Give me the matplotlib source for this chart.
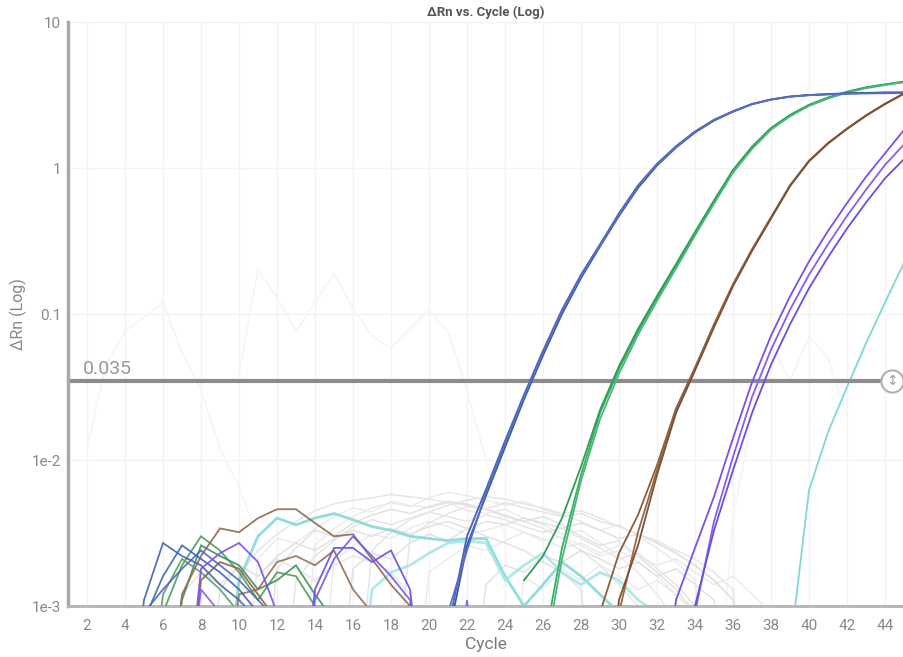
import matplotlib
matplotlib.use("Agg")
import matplotlib.pyplot as plt
import numpy as np

plt.rcParams['font.family'] = ['Roboto', 'DejaVu Sans']

# dRn per cycle; each trace is (first cycle, values). 0.0001 marks a point
# that fell below zero after baseline correction (drawn off the bottom).
threshold = 0.035

blue_colors = ['#4862b5', '#3b56a6', '#5570c4']
blue_amp = [
    (20, [0.0001, 0.0007, 0.0030, 0.0063, 0.0135, 0.028, 0.056, 0.107, 0.186, 0.30, 0.49, 0.76, 1.07,
          1.41, 1.78, 2.14, 2.45, 2.75, 2.95, 3.09, 3.16, 3.20, 3.24, 3.26, 3.28, 3.28]),
    (20, [0.0001, 0.0006, 0.0026, 0.0057, 0.0122, 0.026, 0.052, 0.100, 0.176, 0.29, 0.47, 0.73, 1.04,
          1.38, 1.75, 2.11, 2.43, 2.73, 2.94, 3.08, 3.16, 3.21, 3.25, 3.27, 3.29, 3.30]),
    (20, [0.0001, 0.0009, 0.0024, 0.0060, 0.0130, 0.027, 0.054, 0.104, 0.181, 0.295, 0.48, 0.75, 1.06,
          1.40, 1.77, 2.13, 2.44, 2.74, 2.94, 3.08, 3.15, 3.19, 3.22, 3.24, 3.25, 3.26]),
]
blue_noise = [
    (4, [0.0001, 0.0011, 0.0027, 0.0022, 0.0019, 0.0014, 0.0011, 0.0008, 0.0001]),
    (4, [0.0001, 0.0008, 0.0016, 0.0026, 0.0021, 0.0017, 0.0013, 0.0009, 0.0006, 0.0001]),
    (4, [0.0001, 0.0009, 0.0013, 0.0018, 0.0024, 0.0019, 0.0015, 0.0011, 0.0008, 0.0001]),
]

green_colors = ['#3aae66', '#2f9f58', '#4cb875']
green_amp = [
    (25, [0.0001, 0.0005, 0.0025, 0.0079, 0.021, 0.042, 0.076, 0.129, 0.214, 0.355, 0.59, 0.95, 1.38,
          1.86, 2.29, 2.69, 3.02, 3.31, 3.55, 3.72, 3.89]),
    (25, [0.0015, 0.0022, 0.0040, 0.0090, 0.022, 0.044, 0.079, 0.133, 0.22, 0.365, 0.60, 0.97, 1.40,
          1.88, 2.31, 2.71, 3.04, 3.33, 3.57, 3.74, 3.91]),
    (25, [0.0001, 0.0004, 0.0021, 0.0072, 0.019, 0.039, 0.072, 0.123, 0.205, 0.345, 0.57, 0.93, 1.35,
          1.83, 2.26, 2.66, 2.99, 3.28, 3.52, 3.70, 3.87]),
]
green_noise = [
    (5, [0.0001, 0.0009, 0.0019, 0.0030, 0.0024, 0.0017, 0.0011, 0.0017, 0.0016, 0.0010, 0.0001]),
    (6, [0.0001, 0.0011, 0.0026, 0.0022, 0.0019, 0.0013, 0.0015, 0.0019, 0.0012, 0.0008, 0.0001]),
    (5, [0.0001, 0.0012, 0.0021, 0.0017, 0.0013, 0.0009, 0.0001]),
]

brown_colors = ['#8b5e3c', '#96684a', '#7d5236']
brown_amp = [
    (29, [0.0009, 0.0023, 0.0042, 0.0092, 0.0225, 0.043, 0.085, 0.160, 0.277, 0.46, 0.76, 1.12, 1.48,
          1.86, 2.29, 2.75, 3.24]),
    (29, [0.0001, 0.0009, 0.0032, 0.0085, 0.0215, 0.042, 0.083, 0.158, 0.275, 0.455, 0.76, 1.12, 1.48,
          1.86, 2.29, 2.75, 3.24]),
    (29, [0.0001, 0.0011, 0.0026, 0.0079, 0.021, 0.041, 0.081, 0.155, 0.27, 0.45, 0.75, 1.11, 1.47,
          1.85, 2.28, 2.74, 3.23]),
]
brown_noise = [
    (6, [0.0001, 0.0012, 0.0022, 0.0034, 0.0032, 0.0040, 0.0046, 0.0046, 0.0037, 0.0030, 0.0031,
         0.0021, 0.0014, 0.0010, 0.0001]),
    (9, [0.0001, 0.0012, 0.0013, 0.0020, 0.0022, 0.0019, 0.0024, 0.0013, 0.0009, 0.0001]),
    (7, [0.0001, 0.0015, 0.0020, 0.0018, 0.0012, 0.0008, 0.0001]),
]

purple_colors = ['#7b4fe8', '#8a5cf0', '#6a4ee0']
purple_amp = [
    (32, [0.0001, 0.0011, 0.0025, 0.0056, 0.0141, 0.034, 0.071, 0.132, 0.229, 0.37, 0.575, 0.87, 1.26, 1.82]),
    (33, [0.0001, 0.0009, 0.0038, 0.0105, 0.027, 0.057, 0.107, 0.186, 0.30, 0.47, 0.71, 1.05, 1.45]),
    (33, [0.0001, 0.0010, 0.0033, 0.0085, 0.021, 0.045, 0.085, 0.150, 0.245, 0.385, 0.58, 0.85, 1.15]),
]
purple_noise = [
    (7, [0.0001, 0.0018, 0.0023, 0.0027, 0.0020, 0.0009, 0.0001]),
    (7, [0.0001, 0.0013, 0.0009, 0.0001]),
    (13, [0.0001, 0.0013, 0.0025, 0.0025, 0.0020, 0.0024, 0.0013, 0.0001]),
    (13, [0.0001, 0.0011, 0.0021, 0.0030, 0.0022, 0.0016, 0.0011, 0.0001]),
    (21, [0.0001, 0.0011, 0.0001]),
]

cyan_colors = ['#7fd8d6', '#a3e6e3']
cyan_amp = [
    (38, [0.0001, 0.0005, 0.0062, 0.0155, 0.0316, 0.063, 0.12, 0.224]),
]
cyan_noise = [
    (9, [0.0001, 0.0015, 0.0030, 0.0040, 0.0036, 0.0040, 0.0043, 0.0039, 0.0035, 0.0033, 0.0030, 0.0029,
         0.0028, 0.0029, 0.0029, 0.0016, 0.0010, 0.0014, 0.0020, 0.0016, 0.0012, 0.0009, 0.0001]),
    (16, [0.0001, 0.0013, 0.0017, 0.0019, 0.0023, 0.0027, 0.0028, 0.0027, 0.0015, 0.0019, 0.0023, 0.0017,
          0.0014, 0.0017, 0.0015, 0.0011, 0.0009, 0.0001]),
]

# unselected wells, shown faded behind the selection
gray_traces = [
    (9, [0.0001, 0.0016, 0.0024, 0.0031, 0.0038, 0.0045, 0.0050, 0.0053, 0.0055, 0.0058, 0.0056, 0.0054,
         0.0051, 0.0049, 0.0046, 0.0042, 0.0038, 0.0034, 0.0029, 0.0024, 0.0019, 0.0014, 0.0010, 0.0001]),
    (10, [0.0001, 0.0021, 0.0029, 0.0027, 0.0034, 0.0041, 0.0047, 0.0044, 0.0052, 0.0049, 0.0047, 0.0051,
          0.0045, 0.0043, 0.0046, 0.0040, 0.0036, 0.0031, 0.0033, 0.0027, 0.0022, 0.0017, 0.0012, 0.0008, 0.0001]),
    (11, [0.0001, 0.0018, 0.0025, 0.0033, 0.0030, 0.0037, 0.0042, 0.0046, 0.0043, 0.0048, 0.0052, 0.0050,
          0.0046, 0.0041, 0.0038, 0.0041, 0.0036, 0.0030, 0.0026, 0.0028, 0.0022, 0.0017, 0.0013, 0.0009, 0.0001]),
    (12, [0.0001, 0.0015, 0.0022, 0.0028, 0.0035, 0.0039, 0.0036, 0.0040, 0.0044, 0.0041, 0.0038, 0.0042,
          0.0039, 0.0035, 0.0032, 0.0034, 0.0029, 0.0025, 0.0021, 0.0023, 0.0018, 0.0014, 0.0010, 0.0001]),
    (14, [0.0001, 0.0020, 0.0026, 0.0031, 0.0029, 0.0034, 0.0038, 0.0035, 0.0031, 0.0033, 0.0036, 0.0032,
          0.0028, 0.0030, 0.0026, 0.0022, 0.0024, 0.0020, 0.0016, 0.0012, 0.0001]),
    (8, [0.0001, 0.0013, 0.0019, 0.0016, 0.0022, 0.0027, 0.0024, 0.0029, 0.0033, 0.0030, 0.0034, 0.0031,
         0.0035, 0.0038, 0.0034, 0.0030, 0.0027, 0.0024, 0.0020, 0.0017, 0.0013, 0.0001]),
    (16, [0.0001, 0.0024, 0.0032, 0.0039, 0.0044, 0.0049, 0.0053, 0.0056, 0.0054, 0.0050, 0.0047, 0.0043,
          0.0045, 0.0040, 0.0035, 0.0031, 0.0027, 0.0023, 0.0019, 0.0015, 0.0011, 0.0001]),
    (19, [0.0001, 0.0017, 0.0021, 0.0026, 0.0024, 0.0028, 0.0032, 0.0029, 0.0025, 0.0027, 0.0023, 0.0026,
          0.0022, 0.0019, 0.0021, 0.0017, 0.0014, 0.0016, 0.0012, 0.0009, 0.0001]),
    (22, [0.0001, 0.0014, 0.0019, 0.0017, 0.0022, 0.0020, 0.0024, 0.0021, 0.0018, 0.0020, 0.0016, 0.0018,
          0.0014, 0.0011, 0.0001]),
    (6, [0.0001, 0.0012, 0.0017, 0.0014, 0.0019, 0.0016, 0.0021, 0.0018, 0.0015, 0.0019, 0.0022, 0.0020,
         0.0017, 0.0012, 0.0001]),
    (13, [0.0001, 0.0026, 0.0034, 0.0041, 0.0047, 0.0051, 0.0048, 0.0055, 0.0060, 0.0057, 0.0053, 0.0049,
          0.0052, 0.0046, 0.0042, 0.0038, 0.0033, 0.0036, 0.0030, 0.0025, 0.0020, 0.0015, 0.0001]),
    (15, [0.0001, 0.0018, 0.0023, 0.0021, 0.0027, 0.0031, 0.0028, 0.0034, 0.0038, 0.0036, 0.0040, 0.0037,
          0.0034, 0.0037, 0.0033, 0.0029, 0.0031, 0.0027, 0.0023, 0.0019, 0.0015, 0.0011, 0.0001]),
    (18, [0.0001, 0.0030, 0.0037, 0.0043, 0.0048, 0.0046, 0.0051, 0.0047, 0.0044, 0.0041, 0.0043, 0.0038,
          0.0035, 0.0031, 0.0028, 0.0024, 0.0021, 0.0017, 0.0013, 0.0001]),
    (24, [0.0001, 0.0016, 0.0013, 0.0018, 0.0015, 0.0019, 0.0016, 0.0013, 0.0015, 0.0012, 0.0009, 0.0001]),
]
faint_traces = [
    (2, [0.012, 0.045, 0.076, 0.095, 0.12, 0.054, 0.030, 0.012, 0.0065, 0.003]),
    (10, [0.04, 0.20, 0.13, 0.076, 0.12, 0.19, 0.11, 0.07, 0.058, 0.08, 0.107, 0.075, 0.03, 0.01, 0.003]),
    (35, [0.0001, 0.004, 0.02, 0.06, 0.035, 0.07, 0.05, 0.02]),
]

ytick_vals = [0.001, 0.01, 0.1, 1, 10]
ytick_text = ['1e-3', '1e-2', '0.1', '1', '10']
xtick_vals = list(range(2, 46, 2))


def draw(ax, traces, colors, lw=1.3, alpha=1.0, z=3):
    for i, (start, vals) in enumerate(traces):
        cyc = np.arange(start, start + len(vals))
        ax.plot(cyc, vals, color=colors[i % len(colors)], lw=lw, alpha=alpha,
                zorder=z, solid_joinstyle='miter')


fig = plt.figure(figsize=(9.04, 6.57), dpi=100)
ax = fig.add_axes([68 / 904, 51 / 657, 836 / 904, 584 / 657])
ax.set_yscale('log')
ax.set_xlim(1, 45)
ax.set_ylim(0.001, 10)

draw(ax, faint_traces, ['#f4f4f4'], lw=1.0, z=1)
draw(ax, gray_traces, ['#e4e4e4', '#eaeaea', '#e0e0e0'], lw=1.0, z=1)
draw(ax, cyan_noise, cyan_colors, lw=2.0, alpha=0.85, z=2)
draw(ax, cyan_amp, cyan_colors, lw=1.3, z=2)

ax.plot([1, 44.37], [threshold, threshold], color='#8c8c8c', lw=3, zorder=2.5,
        solid_capstyle='butt')

draw(ax, green_noise, ['#4e9a5e', '#3f8f62', '#5aa06a'], lw=1.3, alpha=0.9)
draw(ax, brown_noise, ['#8d6a50', '#957055', '#8a6248'], lw=1.3, alpha=0.9)
draw(ax, blue_noise, ['#4564b0', '#3a6ab0', '#5068c0'], lw=1.3, alpha=0.9)
draw(ax, purple_noise, purple_colors + ['#6f5ae8', '#8a5cf0'], lw=1.3, alpha=0.9)
draw(ax, brown_amp, brown_colors)
draw(ax, purple_amp, purple_colors)
draw(ax, green_amp, green_colors)
draw(ax, blue_amp, blue_colors)

# threshold label and drag handle
ax.annotate(f'{threshold:.3f}', xy=(1.8, threshold), xytext=(0, 2), textcoords='offset points',
            ha='left', va='bottom', fontsize=14, color='#999999')
ax.plot([44.37], [threshold], marker='o', ms=16, mfc='white', mec='#b0b0b0', mew=1.5,
        zorder=6, clip_on=False)
ax.text(44.37, threshold, '\u2195', ha='center', va='center', fontsize=10, color='#a0a0a0',
        family='DejaVu Sans', zorder=7)

ax.set_xticks(xtick_vals)
ax.set_yticks(ytick_vals)
ax.set_yticklabels(ytick_text)
ax.minorticks_off()
ax.tick_params(length=0, labelsize=11, labelcolor='#888888')
ax.tick_params(axis='x', pad=9)
ax.tick_params(axis='y', pad=5)
ax.grid(True, color='#f3f3f3', lw=1)
ax.set_axisbelow(True)

for side in ['top', 'right']:
    ax.spines[side].set_visible(False)
ax.spines['left'].set_color('#a8a8a8')
ax.spines['left'].set_linewidth(2.5)
ax.spines['bottom'].set_color('#b4b4b4')
ax.spines['bottom'].set_linewidth(2)

ax.set_title('\u0394Rn vs. Cycle (Log)', fontsize=9.5, fontweight='bold', color='#555555', pad=4)
ax.set_xlabel('Cycle', fontsize=12.5, color='#777777', labelpad=3)
ax.set_ylabel('\u0394Rn (Log)', fontsize=11.5, color='#888888', labelpad=3)

fig.savefig('out.png', dpi=100)
